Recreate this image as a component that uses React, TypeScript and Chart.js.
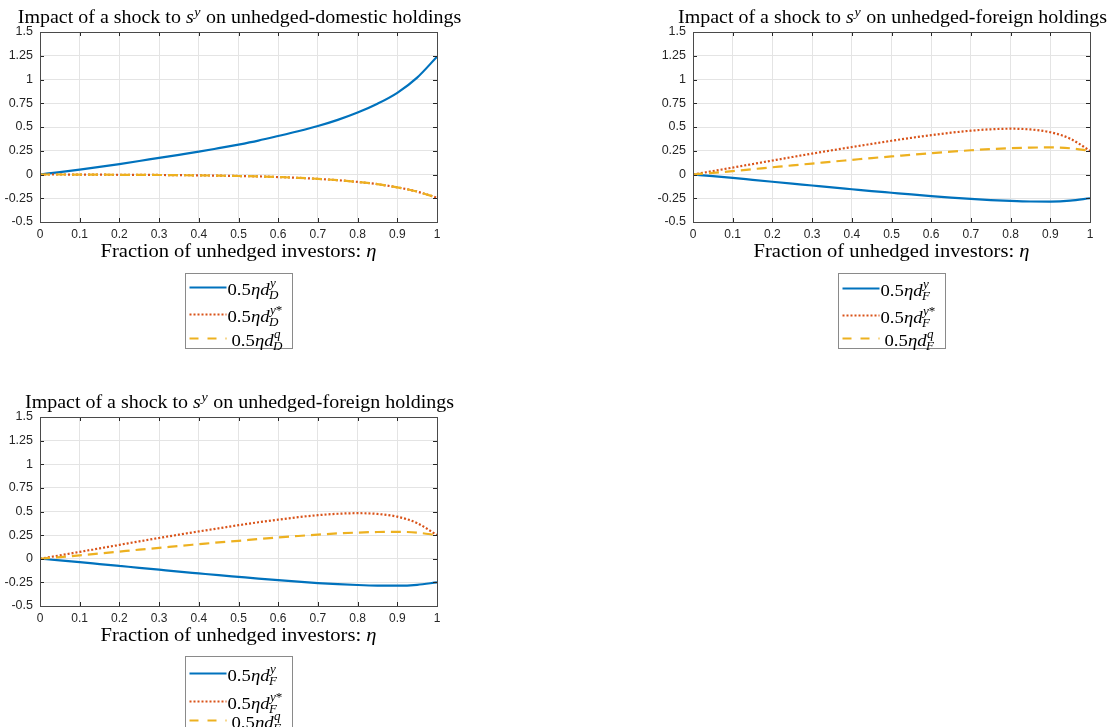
import React, { useEffect, useRef } from "react";
import { Chart, registerables } from "chart.js";

Chart.register(...registerables);

// ---------------- data ----------------
const eta = [0, 0.05, 0.1, 0.15, 0.2, 0.25, 0.3, 0.35, 0.4, 0.45, 0.5, 0.55, 0.6, 0.65, 0.7, 0.75, 0.8, 0.85, 0.9, 0.95, 1.0];

// unhedged-domestic holdings
const domY = [0, 0.025, 0.052, 0.08, 0.11, 0.142, 0.175, 0.207, 0.24, 0.277, 0.315, 0.357, 0.405, 0.455, 0.51, 0.575, 0.652, 0.745, 0.86, 1.02, 1.24];
const domYStar = [0, 0, -0.001, -0.002, -0.003, -0.004, -0.005, -0.007, -0.009, -0.012, -0.016, -0.02, -0.027, -0.035, -0.046, -0.06, -0.078, -0.102, -0.135, -0.18, -0.245];
const domQ = [0, 0, -0.001, -0.002, -0.003, -0.004, -0.005, -0.007, -0.009, -0.012, -0.016, -0.02, -0.027, -0.035, -0.046, -0.06, -0.078, -0.102, -0.135, -0.18, -0.245];

// unhedged-foreign holdings
const forY = [0, -0.017, -0.036, -0.056, -0.076, -0.096, -0.116, -0.136, -0.155, -0.174, -0.192, -0.21, -0.227, -0.243, -0.257, -0.269, -0.278, -0.284, -0.285, -0.276, -0.25];
const forYStar = [0, 0.036, 0.073, 0.11, 0.147, 0.184, 0.22, 0.255, 0.289, 0.322, 0.355, 0.386, 0.414, 0.44, 0.461, 0.476, 0.482, 0.474, 0.445, 0.377, 0.25];
const forQ = [0, 0.017, 0.036, 0.056, 0.076, 0.096, 0.115, 0.135, 0.154, 0.173, 0.19, 0.208, 0.225, 0.241, 0.255, 0.268, 0.277, 0.283, 0.285, 0.276, 0.25];

const xTicks = [0, 0.1, 0.2, 0.3, 0.4, 0.5, 0.6, 0.7, 0.8, 0.9, 1];
const xTickLabels = ["0", "0.1", "0.2", "0.3", "0.4", "0.5", "0.6", "0.7", "0.8", "0.9", "1"];
const yTicks = [-0.5, -0.25, 0, 0.25, 0.5, 0.75, 1, 1.25, 1.5];
const yTickLabels = ["-0.5", "-0.25", "0", "0.25", "0.5", "0.75", "1", "1.25", "1.5"];

const titlePrefix = "Impact of a shock to ";
const titleShockVar = "s";
const titleShockSup = "y";
const titleDomestic = " on unhedged-domestic holdings";
const titleForeign = " on unhedged-foreign holdings";
const xLabelText = "Fraction of unhedged investors: ";
const xLabelSymbol = "η";
const legendCoef = "0.5";
const seriesSups = ["y", "y*", "q"];

// ---------------- styles ----------------
const COLORS = ["#0072BD", "#D95319", "#EDB120"];
const DASHES: number[][] = [[], [2, 2], [10, 6]];
const SERIF = "'Liberation Serif', 'DejaVu Serif', serif";
const SANS = "'Liberation Sans', Arial, sans-serif";
const AXIS_COLOR = "#262626";
const GRID_COLOR = "#e4e4e4";
const Y_W = 40;
const X_H = 30;
const H_SCALE = 1.11;

type Part = { t: string; it?: boolean };
type Seg = { t: string; it?: boolean; sup?: Part[]; sub?: Part[] };

function fontStr(it: boolean | undefined, size: number) {
  return `${it ? "italic " : ""}${size}px ${SERIF}`;
}

function partsWidth(ctx: CanvasRenderingContext2D, parts: Part[] | undefined, size: number) {
  if (!parts) return 0;
  let w = 0;
  for (const p of parts) {
    ctx.font = fontStr(p.it, size);
    w += ctx.measureText(p.t).width;
  }
  return w;
}

function richWidth(ctx: CanvasRenderingContext2D, segs: Seg[], size: number) {
  const ss = size * 0.7;
  let w = 0;
  for (const s of segs) {
    ctx.font = fontStr(s.it, size);
    w += ctx.measureText(s.t).width;
    if (s.sup || s.sub) w += Math.max(partsWidth(ctx, s.sup, ss), partsWidth(ctx, s.sub, ss)) + 1;
  }
  return w;
}

function drawParts(ctx: CanvasRenderingContext2D, parts: Part[], x: number, y: number, size: number) {
  let cx = x;
  for (const p of parts) {
    ctx.font = fontStr(p.it, size);
    ctx.fillText(p.t, cx, y);
    cx += ctx.measureText(p.t).width;
  }
}

function drawRich(
  ctx: CanvasRenderingContext2D,
  segs: Seg[],
  x: number,
  y: number,
  size: number,
  align: "left" | "center",
  hs: number
) {
  const ss = size * 0.7;
  const total = richWidth(ctx, segs, size) * hs;
  const startX = align === "center" ? x - total / 2 : x;
  ctx.save();
  ctx.translate(startX, y);
  ctx.scale(hs, 1);
  ctx.fillStyle = "#000";
  ctx.textAlign = "left";
  ctx.textBaseline = "alphabetic";
  let cx = 0;
  for (const s of segs) {
    ctx.font = fontStr(s.it, size);
    ctx.fillText(s.t, cx, 0);
    cx += ctx.measureText(s.t).width;
    if (s.sup || s.sub) {
      const both = !!(s.sup && s.sub);
      if (s.sup) drawParts(ctx, s.sup, cx + 0.5, -size * (both ? 0.5 : 0.4), ss);
      if (s.sub) drawParts(ctx, s.sub, cx - 0.5, size * (both ? 0.22 : 0.2), ss);
      cx += Math.max(partsWidth(ctx, s.sup, ss), partsWidth(ctx, s.sub, ss)) + 1;
    }
  }
  ctx.restore();
}

function supParts(sup: string): Part[] {
  return sup.split("").map((c) => ({ t: c, it: /[a-z]/i.test(c) }));
}

type PanelCfg = {
  left: number;
  top: number;
  width: number;
  height: number;
  area: { left: number; top: number; right: number; bottom: number };
  titleTail: string;
  sub: string;
  ys: number[][];
  legendGap: number;
  legendRows: number[];
  legendH: number;
};

const panels: PanelCfg[] = [
  {
    left: 0, top: 0, width: 554, height: 385,
    area: { left: 40, top: 32, right: 437, bottom: 222 },
    titleTail: titleDomestic, sub: "D", ys: [domY, domYStar, domQ],
    legendGap: 51, legendRows: [14, 41, 65], legendH: 75,
  },
  {
    left: 554, top: 0, width: 554, height: 385,
    area: { left: 139, top: 32, right: 536, bottom: 222 },
    titleTail: titleForeign, sub: "F", ys: [forY, forYStar, forQ],
    legendGap: 51, legendRows: [15, 42, 65], legendH: 75,
  },
  {
    left: 0, top: 385, width: 554, height: 342,
    area: { left: 40, top: 32, right: 437, bottom: 221 },
    titleTail: titleForeign, sub: "F", ys: [forY, forYStar, forQ],
    legendGap: 50, legendRows: [17, 45, 64], legendH: 76,
  },
];

function Panel({ cfg }: { cfg: PanelCfg }) {
  const ref = useRef<HTMLCanvasElement>(null);
  useEffect(() => {
    if (!ref.current) return;
    const { area } = cfg;
    const legendSegs = (sup: string): Seg[] => [
      { t: legendCoef },
      { t: xLabelSymbol, it: true },
      { t: "d", it: true, sup: supParts(sup), sub: [{ t: cfg.sub, it: true }] },
    ];
    const overlay = {
      id: "matlabOverlay",
      afterDatasetsDraw(chart: any) {
        const ctx: CanvasRenderingContext2D = chart.ctx;
        const ca = chart.chartArea;
        const xs = chart.scales.x;
        const ys = chart.scales.y;
        ctx.save();
        ctx.strokeStyle = AXIS_COLOR;
        ctx.lineWidth = 1;
        ctx.beginPath();
        const tl = 4;
        for (const v of xTicks) {
          const px = Math.round(xs.getPixelForValue(v)) + 0.5;
          ctx.moveTo(px, ca.bottom);
          ctx.lineTo(px, ca.bottom - tl);
          ctx.moveTo(px, ca.top);
          ctx.lineTo(px, ca.top + tl);
        }
        for (const v of yTicks) {
          const py = Math.round(ys.getPixelForValue(v)) + 0.5;
          ctx.moveTo(ca.left, py);
          ctx.lineTo(ca.left + tl, py);
          ctx.moveTo(ca.right, py);
          ctx.lineTo(ca.right - tl, py);
        }
        ctx.stroke();
        ctx.strokeStyle = "#4a4a4a";
        ctx.strokeRect(Math.round(ca.left) + 0.5, Math.round(ca.top) + 0.5, Math.round(ca.right - ca.left), Math.round(ca.bottom - ca.top));
        ctx.restore();
      },
      afterDraw(chart: any) {
        const ctx: CanvasRenderingContext2D = chart.ctx;
        const ca = chart.chartArea;
        const cx = (ca.left + ca.right) / 2;
        // title
        drawRich(
          ctx,
          [{ t: titlePrefix }, { t: titleShockVar, it: true, sup: [{ t: titleShockSup, it: true }] }, { t: cfg.titleTail }],
          cx + 1, ca.top - 9, 18, "center", H_SCALE
        );
        // x label
        drawRich(ctx, [{ t: xLabelText }, { t: xLabelSymbol, it: true }], cx, ca.bottom + 35, 18.5, "center", H_SCALE);
        // legend
        const lw = 107;
        const lx = Math.round(cx - lw / 2) + 0.5;
        const ly = Math.round(ca.bottom + cfg.legendGap) + 0.5;
        ctx.save();
        ctx.fillStyle = "#fff";
        ctx.fillRect(lx, ly, lw, cfg.legendH);
        ctx.strokeStyle = "#8a8a8a";
        ctx.lineWidth = 1;
        ctx.strokeRect(lx, ly, lw, cfg.legendH);
        seriesSups.forEach((sup, i) => {
          const ry = ly + cfg.legendRows[i];
          ctx.save();
          ctx.strokeStyle = COLORS[i];
          ctx.lineWidth = 2;
          ctx.setLineDash(i === 2 ? [9, 9] : DASHES[i]);
          ctx.beginPath();
          ctx.moveTo(lx + 4, ry);
          ctx.lineTo(lx + 41, ry);
          ctx.stroke();
          ctx.restore();
          drawRich(ctx, legendSegs(sup), lx + 42 + (i === 2 ? 4 : 0), ry + 7.5, 17, "left", 1.1);
        });
        ctx.restore();
      },
    };

    const order = [2, 1, 0];
    const chart = new Chart(ref.current, {
      type: "line",
      data: {
        datasets: cfg.ys.map((vals, i) => ({
          label: seriesSups[i],
          data: eta.map((x, k) => ({ x, y: vals[k] })),
          borderColor: COLORS[i],
          backgroundColor: COLORS[i],
          borderWidth: 2.2,
          borderDash: DASHES[i],
          pointRadius: 0,
          cubicInterpolationMode: "monotone" as const,
          fill: false,
          order: order[i],
        })),
      },
      options: {
        responsive: false,
        animation: false,
        events: [],
        layout: {
          padding: {
            left: area.left - Y_W,
            top: area.top,
            right: cfg.width - area.right,
            bottom: cfg.height - area.bottom - X_H,
          },
        },
        plugins: {
          legend: { display: false },
          title: { display: false },
          tooltip: { enabled: false },
        },
        scales: {
          x: {
            type: "linear",
            min: 0,
            max: 1,
            afterBuildTicks: (s: any) => {
              s.ticks = xTicks.map((v) => ({ value: v }));
            },
            afterFit: (s: any) => {
              s.height = X_H;
            },
            ticks: {
              autoSkip: false,
              maxRotation: 0,
              padding: 5,
              color: AXIS_COLOR,
              font: { family: SANS, size: 12 },
              callback: (v: any) => {
                const i = xTicks.findIndex((t) => Math.abs(t - Number(v)) < 1e-9);
                return i >= 0 ? xTickLabels[i] : "";
              },
            },
            grid: { color: GRID_COLOR, lineWidth: 1, drawTicks: false },
            border: { display: false },
          },
          y: {
            type: "linear",
            min: -0.5,
            max: 1.5,
            afterBuildTicks: (s: any) => {
              s.ticks = yTicks.map((v) => ({ value: v }));
            },
            afterFit: (s: any) => {
              s.width = Y_W;
            },
            ticks: {
              autoSkip: false,
              padding: 7,
              color: AXIS_COLOR,
              font: { family: SANS, size: 12.5 },
              callback: (v: any) => {
                const i = yTicks.findIndex((t) => Math.abs(t - Number(v)) < 1e-9);
                return i >= 0 ? yTickLabels[i] : "";
              },
            },
            grid: { color: GRID_COLOR, lineWidth: 1, drawTicks: false },
            border: { display: false },
          },
        },
      },
      plugins: [overlay],
    });
    return () => chart.destroy();
  }, [cfg]);

  return (
    <canvas
      ref={ref}
      width={cfg.width}
      height={cfg.height}
      style={{ position: "absolute", left: cfg.left, top: cfg.top, width: cfg.width, height: cfg.height }}
    />
  );
}

export default function App() {
  return (
    <div style={{ position: "fixed", left: 0, top: 0, width: 1108, height: 727, background: "#fff", overflow: "hidden" }}>
      {panels.map((p, i) => (
        <Panel key={i} cfg={p} />
      ))}
    </div>
  );
}
